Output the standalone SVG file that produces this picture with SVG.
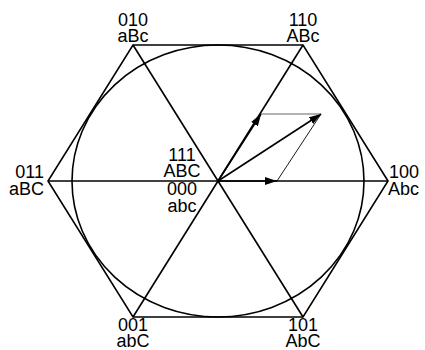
<svg xmlns="http://www.w3.org/2000/svg" width="425" height="350" viewBox="0 0 425 350">
<style>
.ln{stroke:#000;stroke-width:1.6;fill:none}
.thin{stroke:#000;stroke-width:0.9;fill:none}
.gray{stroke:#666;stroke-width:1.2;fill:none}
text{font-family:"Liberation Sans",Arial,sans-serif;font-size:18px;fill:#000}
.m{text-anchor:middle}
</style>
<defs>
<marker id="ah" viewBox="0 0 12 8" refX="12" refY="4" markerWidth="12" markerHeight="8" markerUnits="userSpaceOnUse" orient="auto">
<path d="M0,0 L12,4 L0,8 Z" fill="#000"/>
</marker>
</defs>
<rect width="425" height="350" fill="#fff"/>
<g id="connectors">
<polygon class="ln" points="388,181 303,45 133,45 48,181 133,317 303,317"/>
<ellipse class="ln" cx="218" cy="181" rx="146" ry="136"/>
<line class="ln" x1="48" y1="181" x2="388" y2="181"/>
<line class="ln" x1="133" y1="45" x2="303" y2="317"/>
<line class="ln" x1="303" y1="45" x2="133" y2="317"/>
<line class="ln" x1="218" y1="181" x2="277" y2="181" marker-end="url(#ah)"/>
<line class="ln" x1="218" y1="181" x2="261" y2="114" marker-end="url(#ah)"/>
<line class="ln" x1="218" y1="181" x2="321" y2="114" marker-end="url(#ah)"/>
<line class="gray" x1="261" y1="114" x2="321" y2="114"/>
<line class="thin" x1="277" y1="181" x2="321" y2="114"/>
</g>
<g id="n010"><text class="m" x="133" y="26">010</text><text class="m" x="133" y="42">aBc</text></g>
<g id="n110"><text class="m" x="303" y="26">110</text><text class="m" x="303" y="42">ABc</text></g>
<g id="n011"><text x="44" y="178" text-anchor="end">011</text><text x="44" y="195" text-anchor="end">aBC</text></g>
<g id="n100"><text x="389" y="178">100</text><text x="388" y="195">Abc</text></g>
<g id="n111"><text class="m" x="182" y="161">111</text><text class="m" x="182" y="177">ABC</text></g>
<g id="n000"><text class="m" x="182" y="195">000</text><text class="m" x="182" y="212">abc</text></g>
<g id="n001"><text class="m" x="133" y="331">001</text><text class="m" x="133" y="347">abC</text></g>
<g id="n101"><text class="m" x="303" y="331">101</text><text class="m" x="303" y="347">AbC</text></g>
</svg>
